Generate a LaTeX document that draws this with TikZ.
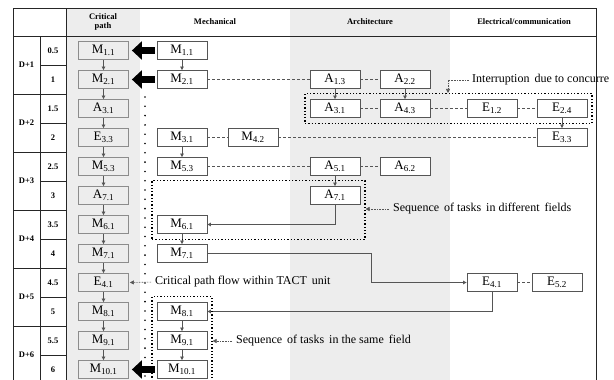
\documentclass[tikz,border=0pt]{standalone}
\usepackage{fontspec}
\setmainfont{Liberation Serif}
\usetikzlibrary{arrows.meta,fit}
\definecolor{colgray}{HTML}{EDEDED}
\definecolor{boxgray}{HTML}{8C8C8C}
\definecolor{linkgray}{HTML}{555555}

\begin{document}
\begin{tikzpicture}[x=1pt,y=-1pt,
  task/.style={draw=linkgray,fill=white,line width=0.8pt,minimum width=50pt,minimum height=18pt,inner sep=0pt,font=\fontsize{13}{14}\selectfont},
  crit/.style={task,draw=boxgray,fill=colgray},
  head/.style={font=\fontsize{8.5}{9.5}\selectfont\bfseries,align=center},
  flow/.style={draw=linkgray,line width=0.7pt,-{Triangle[length=3.5pt,width=3.5pt]}},
  link/.style={draw=linkgray,line width=0.9pt,dash pattern=on 3pt off 2pt},
  bigarrow/.style={line width=7pt,-{Triangle[length=10pt,width=18pt]},shorten >=3pt,shorten <=2pt},
  frame/.style={draw,dotted,line width=1.3pt,inner xsep=4.5pt,inner ysep=5.5pt},
  note/.style={font=\fontsize{12}{13}\selectfont,anchor=west,inner sep=0pt},
  leader/.style={draw=linkgray,dash pattern=on 0.8pt off 0.8pt,line width=0.6pt,-{Triangle[length=4pt,width=4pt]}}]
  \useasboundingbox (0,0) rectangle (614,380);
  \clip (0,0) rectangle (614,380);
  \fill[colgray] (66,8) rectangle (140,384);
  \fill[colgray] (290,8) rectangle (450,384);
  \begin{scope}[line width=0.6pt,black!85]
    \draw (13,8) rectangle (596,384);
    \draw (13,36) -- (596,36);
    \draw (40,36) -- (40,384);
    \draw (66,8) -- (66,384);
    \foreach \y in {94,152,210,268,326} \draw (13,\y) -- (66,\y);
    \foreach \y in {65,123,181,239,297,355} \draw (40,\y) -- (66,\y);
  \end{scope}
  \node[head] (hCrit) at (103,22) {Critical\\path};
  \node[head] (hMech) at (215,22) {Mechanical};
  \node[head] (hArch) at (370,22) {Architecture};
  \node[head] (hElec) at (524,22) {Electrical/communication};
  \foreach \d/\y in {1/65,2/123,3/181,4/239,5/297,6/355}
    \node[head] (d\d) at (26.5,\y) {D+\d};
  \foreach \h [count=\i] in {0.5,1,1.5,2,2.5,3,3.5,4,4.5,5,5.5,6}
    \node[head] (h\i) at (53,{21.5+29*\i}) {\h};
  \foreach \k in {0,...,30}
    \fill (145,{97+9.3*\k}) circle (0.9pt);
  \foreach \i/\l/\s in {1/M/1.1,2/M/2.1,3/A/3.1,4/E/3.3,5/M/5.3,6/A/7.1,7/M/6.1,8/M/7.1,9/E/4.1,10/M/8.1,11/M/9.1,12/M/10.1}
    \node[crit] (c\i) at (103.5,{21.5+29*\i}) {\l\textsubscript{\s}};
  \foreach \i [evaluate=\i as \j using int(\i+1)] in {1,...,11}
    \draw[flow] (c\i.south) -- (c\j.north);
  \node[task] (mM11) at (182,50.5) {M\textsubscript{1.1}};
  \node[task] (mM21) at (182,79.5) {M\textsubscript{2.1}};
  \node[task] (mM31) at (182,137.5) {M\textsubscript{3.1}};
  \node[task] (mM42) at (253,137.5) {M\textsubscript{4.2}};
  \node[task] (mM53) at (182,166.5) {M\textsubscript{5.3}};
  \node[task] (mM61) at (182,224.5) {M\textsubscript{6.1}};
  \node[task] (mM71) at (182,253.5) {M\textsubscript{7.1}};
  \node[task] (mM81) at (182,311.5) {M\textsubscript{8.1}};
  \node[task] (mM91) at (182,340.5) {M\textsubscript{9.1}};
  \node[task] (mM101) at (182,369.5) {M\textsubscript{10.1}};
  \node[task] (aA13) at (335,79.5) {A\textsubscript{1.3}};
  \node[task] (aA22) at (405,79.5) {A\textsubscript{2.2}};
  \node[task] (aA31) at (335,108.5) {A\textsubscript{3.1}};
  \node[task] (aA43) at (405,108.5) {A\textsubscript{4.3}};
  \node[task] (aA51) at (335,166.5) {A\textsubscript{5.1}};
  \node[task] (aA62) at (405,166.5) {A\textsubscript{6.2}};
  \node[task] (aA71) at (335,195.5) {A\textsubscript{7.1}};
  \node[task] (eE12) at (492,108.5) {E\textsubscript{1.2}};
  \node[task] (eE24) at (562,108.5) {E\textsubscript{2.4}};
  \node[task] (eE33) at (562,137.5) {E\textsubscript{3.3}};
  \node[task] (eE41) at (492,282.5) {E\textsubscript{4.1}};
  \node[task] (eE52) at (557,282.5) {E\textsubscript{5.2}};
  \draw[bigarrow] (mM11) -- (c1);
  \draw[bigarrow] (mM21) -- (c2);
  \draw[bigarrow] (mM101) -- (c12);
  \foreach \a/\b in {mM21/aA13,aA13/aA22,aA31/aA43,aA43/eE12,eE12/eE24,mM31/mM42,mM42/eE33,mM53/aA51,aA51/aA62,eE41/eE52}
    \draw[link] (\a) -- (\b);
  \foreach \a/\b in {mM11/mM21,aA13/aA31,aA22/aA43,eE24/eE33,mM31/mM53,aA51/aA71,mM61/mM71,mM81/mM91,mM91/mM101}
    \draw[flow] (\a) -- (\b);
  \coordinate (bend) at (371,253.5);
  \draw[flow] (aA71.south) |- (mM61.east);
  \draw[flow] (mM71.east) -- (bend) |- (eE41.west);
  \draw[flow] (eE41.south) |- (mM81.east);
  \node[frame,fit=(aA31)(eE24)] (fInter) {};
  \node[frame,fit=(mM61)(aA71)] (fDiff) {};
  \node[frame,fit=(mM81)(mM101)] (fSame) {};
  \node[note] (nInter) at (472,80) {Interruption\, due to concurre};
  \node[note] (nDiff) at (393,209) {Sequence\, of tasks\, in different\, fields};
  \node[note] (nSame) at (236,341) {Sequence\, of tasks\, in the same\, field};
  \node[note] (nCrit) at (155,282) {Critical path flow within TACT\, unit};
  \coordinate (kInter) at (448,80);
  \draw[leader,shorten <=3pt] (nInter.west) -- (kInter) -- (kInter |- fInter.north);
  \draw[leader,shorten <=4pt] (nDiff.west) -- (nDiff.west -| fDiff.east);
  \draw[leader,shorten <=4pt] (nSame.west) -- (nSame.west -| fSame.east);
  \draw[leader,shorten <=4pt,shorten >=1pt] (nCrit.west) -- (c9.east);
\end{tikzpicture}
\end{document}
